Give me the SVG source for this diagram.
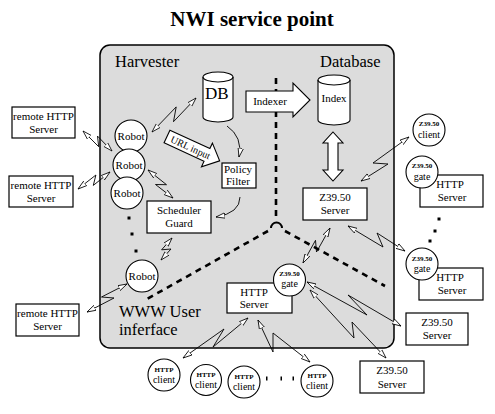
<svg xmlns="http://www.w3.org/2000/svg" width="495" height="414" viewBox="0 0 495 414">
<style>
text{font-family:"Liberation Serif","Times New Roman",serif;fill:#000}
.t{font-size:11px;text-anchor:middle}
.tl{font-size:11px}
.big{font-size:16.5px}
.tiny{font-size:7px;font-weight:bold;text-anchor:middle}
.sm{font-size:10px;text-anchor:middle}
.box{fill:#fff;stroke:#000;stroke-width:1.2}
.node{fill:#fff;stroke:#000;stroke-width:1.1}
.zz{fill:none;stroke:#000;stroke-width:0.9;marker-start:url(#ah);marker-end:url(#ah)}
.cv{fill:none;stroke:#000;stroke-width:0.9;marker-end:url(#ah)}
.dash{fill:none;stroke:#000;stroke-width:2.6;stroke-dasharray:6 5}
.dot{fill:#000}
</style>
<defs>
<marker id="ah" markerUnits="userSpaceOnUse" markerWidth="10" markerHeight="7" refX="9" refY="3.5" orient="auto-start-reverse" viewBox="0 0 10 7">
<path d="M0,0.8 L9,3.5 L0,6.2 z" fill="#fff" stroke="#000" stroke-width="0.8"/>
</marker>
</defs>
<rect width="495" height="414" fill="#fff"/>
<text x="252" y="26" style="font-size:21px;font-weight:bold;text-anchor:middle">NWI service point</text>

<g id="service-point">
<rect x="100" y="45" width="294" height="303" rx="10" fill="#dcdcdc" stroke="#000" stroke-width="1.5"/>
<text class="big" x="115" y="67">Harvester</text>
<text class="big" x="320" y="67">Database</text>
<text class="big" x="119" y="317">WWW User</text>
<text class="big" x="119" y="335">inferface</text>
</g>

<g id="partitions">
<path class="dash" d="M276,78 V220"/>
<path d="M271,228 A5.5,5.5 0 0 1 282,228" fill="none" stroke="#000" stroke-width="2"/>
<path class="dash" d="M268,231 L147,299"/>
<path class="dash" d="M285,231 L385,286"/>
</g>

<g id="DB">
<path class="node" d="M203,77 V117 A15,5 0 0 0 233,117 V77 A15,5 0 0 0 203,77 z"/>
<path fill="none" stroke="#000" stroke-width="1.1" d="M203,77 A15,5 0 0 0 233,77"/>
<text x="205" y="99" style="font-size:17px">DB</text>
</g>

<g id="Index">
<path class="node" d="M318,80 V120 A16,5 0 0 0 350,120 V80 A16,5 0 0 0 318,80 z"/>
<path fill="none" stroke="#000" stroke-width="1.1" d="M318,80 A16,5 0 0 0 350,80"/>
<text class="t" x="334" y="102">Index</text>
</g>

<g id="Indexer">
<polygon class="node" points="246,91 293,91 293,83 310,100 293,117 293,112 246,112"/>
<text class="t" x="270" y="105">Indexer</text>
</g>

<g id="db-link">
<polygon class="node" points="333,132 343,143 338,143 338,170 343,170 333,181 323,170 328,170 328,143 323,143"/>
</g>

<g id="URL-input">
<g transform="translate(167,136.5) rotate(24.8)">
<polygon class="node" points="0,-7 44,-7 44,-13 58,0 44,13 44,7 0,7"/>
<text x="26" y="3.5" style="font-size:10px;text-anchor:middle">URL input</text>
</g>
</g>

<g id="Policy-Filter">
<rect class="box" x="222" y="163" width="34" height="25"/>
<text class="tl" x="224" y="173">Policy</text>
<text class="tl" x="226" y="185">Filter</text>
</g>

<g id="Scheduler-Guard">
<rect class="box" x="147" y="201" width="64" height="32"/>
<text class="t" x="179" y="214">Scheduler</text>
<text class="t" x="179" y="227">Guard</text>
</g>

<g id="Robot-1"><circle class="node" cx="131" cy="136" r="16"/><text class="t" x="131" y="140">Robot</text></g>
<g id="Robot-2"><circle class="node" cx="129" cy="165" r="16"/><text class="t" x="129" y="169">Robot</text></g>
<g id="Robot-3"><circle class="node" cx="127" cy="193" r="16"/><text class="t" x="127" y="197">Robot</text></g>
<g id="Robot-4"><circle class="node" cx="142" cy="276" r="16"/><text class="t" x="142" y="280">Robot</text></g>
<g id="robot-dots">
<rect class="dot" x="127.5" y="216.5" width="3" height="3"/>
<rect class="dot" x="130.5" y="232.5" width="3" height="3"/>
<rect class="dot" x="134.5" y="249.5" width="3" height="3"/>
</g>

<g id="remote-HTTP-1"><rect class="box" x="12" y="107" width="63" height="31"/><text class="t" x="43.5" y="120">remote HTTP</text><text class="t" x="43.5" y="133">Server</text></g>
<g id="remote-HTTP-2"><rect class="box" x="9" y="176" width="64" height="31"/><text class="t" x="41" y="189">remote HTTP</text><text class="t" x="41" y="202">Server</text></g>
<g id="remote-HTTP-3"><rect class="box" x="16" y="304" width="63" height="32"/><text class="t" x="47.5" y="317">remote HTTP</text><text class="t" x="47.5" y="330">Server</text></g>

<g id="Z3950-Server-db"><rect class="box" x="303" y="188" width="64" height="32"/><text class="t" x="335" y="201">Z39.50</text><text class="t" x="335" y="214">Server</text></g>

<g id="HTTP-Server-www">
<rect class="box" x="227" y="283" width="65" height="30"/>
<text class="t" x="254" y="296">HTTP</text><text class="t" x="254" y="308">Server</text>
<circle class="node" cx="289.5" cy="280" r="16"/>
<text class="tiny" x="289.5" y="276">Z39.50</text><text class="sm" x="289.5" y="287">gate</text>
</g>

<g id="Z3950-client"><circle class="node" cx="429" cy="130" r="16"/><text class="tiny" x="429" y="126">Z39.50</text><text class="sm" x="429" y="138">client</text></g>

<g id="gate-HTTP-1">
<rect class="box" x="420" y="175" width="63" height="32"/>
<text class="t" x="450" y="188">HTTP</text><text class="t" x="452" y="201">Server</text>
<circle class="node" cx="422" cy="172" r="16"/>
<text class="tiny" x="422" y="168">Z39.50</text><text class="sm" x="422" y="180">gate</text>
</g>
<g id="right-dots">
<rect class="dot" x="437.5" y="217.5" width="3" height="3"/>
<rect class="dot" x="433.5" y="229.5" width="3" height="3"/>
<rect class="dot" x="428.5" y="239.5" width="3" height="3"/>
</g>
<g id="gate-HTTP-2">
<rect class="box" x="419" y="268" width="64" height="32"/>
<text class="t" x="450" y="281">HTTP</text><text class="t" x="452" y="294">Server</text>
<circle class="node" cx="422" cy="264" r="16"/>
<text class="tiny" x="422" y="261">Z39.50</text><text class="sm" x="422" y="272">gate</text>
</g>

<g id="Z3950-Server-right"><rect class="box" x="406" y="313" width="62" height="32"/><text class="t" x="437" y="326">Z39.50</text><text class="t" x="437" y="339">Server</text></g>
<g id="Z3950-Server-bottom"><rect class="box" x="360" y="361" width="64" height="32"/><text class="t" x="392" y="374">Z39.50</text><text class="t" x="392" y="388">Server</text></g>

<g id="HTTP-client-1"><circle class="node" cx="164" cy="375" r="16"/><text class="tiny" x="164" y="372">HTTP</text><text class="sm" x="164" y="383">client</text></g>
<g id="HTTP-client-2"><circle class="node" cx="206" cy="380" r="15.5"/><text class="tiny" x="206" y="377">HTTP</text><text class="sm" x="206" y="388">client</text></g>
<g id="HTTP-client-3"><circle class="node" cx="244" cy="382" r="16"/><text class="tiny" x="244" y="379">HTTP</text><text class="sm" x="244" y="390">client</text></g>
<g id="HTTP-client-4"><circle class="node" cx="317" cy="381" r="16"/><text class="tiny" x="317" y="378">HTTP</text><text class="sm" x="317" y="389">client</text></g>
<g id="client-dots">
<rect class="dot" x="266" y="376.5" width="1.5" height="4"/>
<rect class="dot" x="280.5" y="376.5" width="1.5" height="4"/>
<rect class="dot" x="292.5" y="376.5" width="1.5" height="4"/>
</g>

<g id="connectors">
<polyline class="zz" points="152,132 176.2,106.9 173.5,121.7 196,98"/>
<polyline class="zz" points="83,131 98.7,146.7 97.5,136.1 112,151"/>
<polyline class="zz" points="78,189 95.9,175 93.3,185.4 110,172"/>
<polyline class="zz" points="148,170 166.5,184.7 155.5,184.5 173,198"/>
<polyline class="zz" points="172,238 161.6,249.8 171,249 161,260"/>
<polyline class="zz" points="87,312 114,298 101.5,297 127,284"/>
<polyline class="zz" points="409,137 373,163 388,164 361,181"/>
<polyline class="zz" points="348,226 383,247 377,233 405,251"/>
<polyline class="zz" points="330,228 316.5,252 315.5,240.3 303,263"/>
<polyline class="zz" points="307,282 367,315 348,295 401,326"/>
<polyline class="zz" points="310,290 354,338 352,322 386,358"/>
<polyline class="zz" points="248,318 213,347 224,329 183,358"/>
<polyline class="zz" points="258,320 273,352 273,333 310,362"/>
<path class="cv" d="M227,126 Q243,137 239,157"/>
<path class="cv" d="M240,197 Q240,213 216,217"/>
</g>
</svg>
